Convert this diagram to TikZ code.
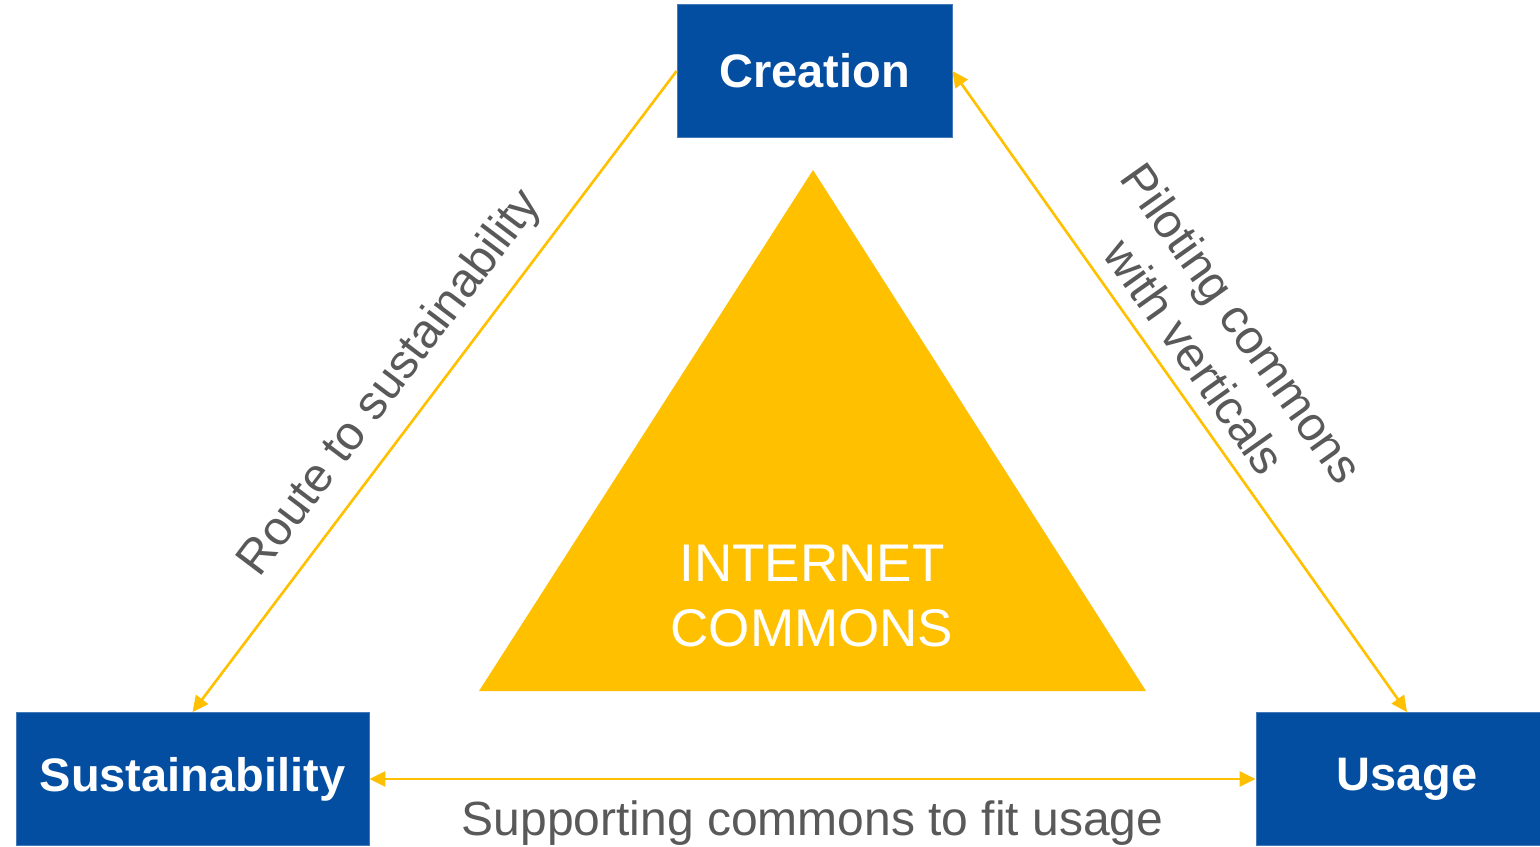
\documentclass[tikz,border=0pt]{standalone}
\usepackage{fontspec}
\setmainfont{Liberation Sans}
\usetikzlibrary{arrows.meta}
\definecolor{ecblue}{RGB}{4,78,162}
\definecolor{ecgold}{RGB}{255,192,0}
\definecolor{labelgrey}{RGB}{89,89,89}
\begin{document}
\begin{tikzpicture}[x=0.5pt, y=-0.5pt,
       box/.style={draw=ecblue!75!white, thin, fill=ecblue, text=white,
             font=\fontsize{23.5}{28}\selectfont\bfseries, inner sep=0pt, minimum height=66.5pt},
       link/.style={draw=ecgold, line width=1.3pt, >={Triangle[length=8pt,width=7.5pt]}},
       tag/.style={text=labelgrey, font=\fontsize{24}{29}\selectfont, inner sep=0pt}]
\useasboundingbox (0,0) rectangle (1540,846);
\fill[ecgold] (813,170) -- (1146,691) -- (479,691) -- cycle;
\node[text=white, align=center, inner sep=0pt,
      font=\fontsize{26.5}{32.5}\selectfont] (commons) at (812,596) {INTERNET\\COMMONS};
\node[box, minimum width=137.5pt] (creation) at (814.5,71) {\raisebox{-1pt}{Creation}};
\node[box, minimum width=176.5pt] (sus) at (192.5,779) {\raisebox{-1pt}{Sustainability}};
\node[box, minimum width=151pt] (usage) at (1407,779) {\raisebox{-1pt}{Usage}};
\draw[link,<-] (sus.north) -- node[tag, sloped, above=8pt, pos=.475] {Route to sustainability} (creation.west);
\draw[link,<->] (creation.east) -- node[tag, sloped, above=7pt, pos=.475, align=center] {Piloting commons\\with verticals} (usage.north);
\draw[link,<->] (sus.east) -- node[tag, below=10pt] {Supporting commons to fit usage} (usage.west);
\end{tikzpicture}
\end{document}
